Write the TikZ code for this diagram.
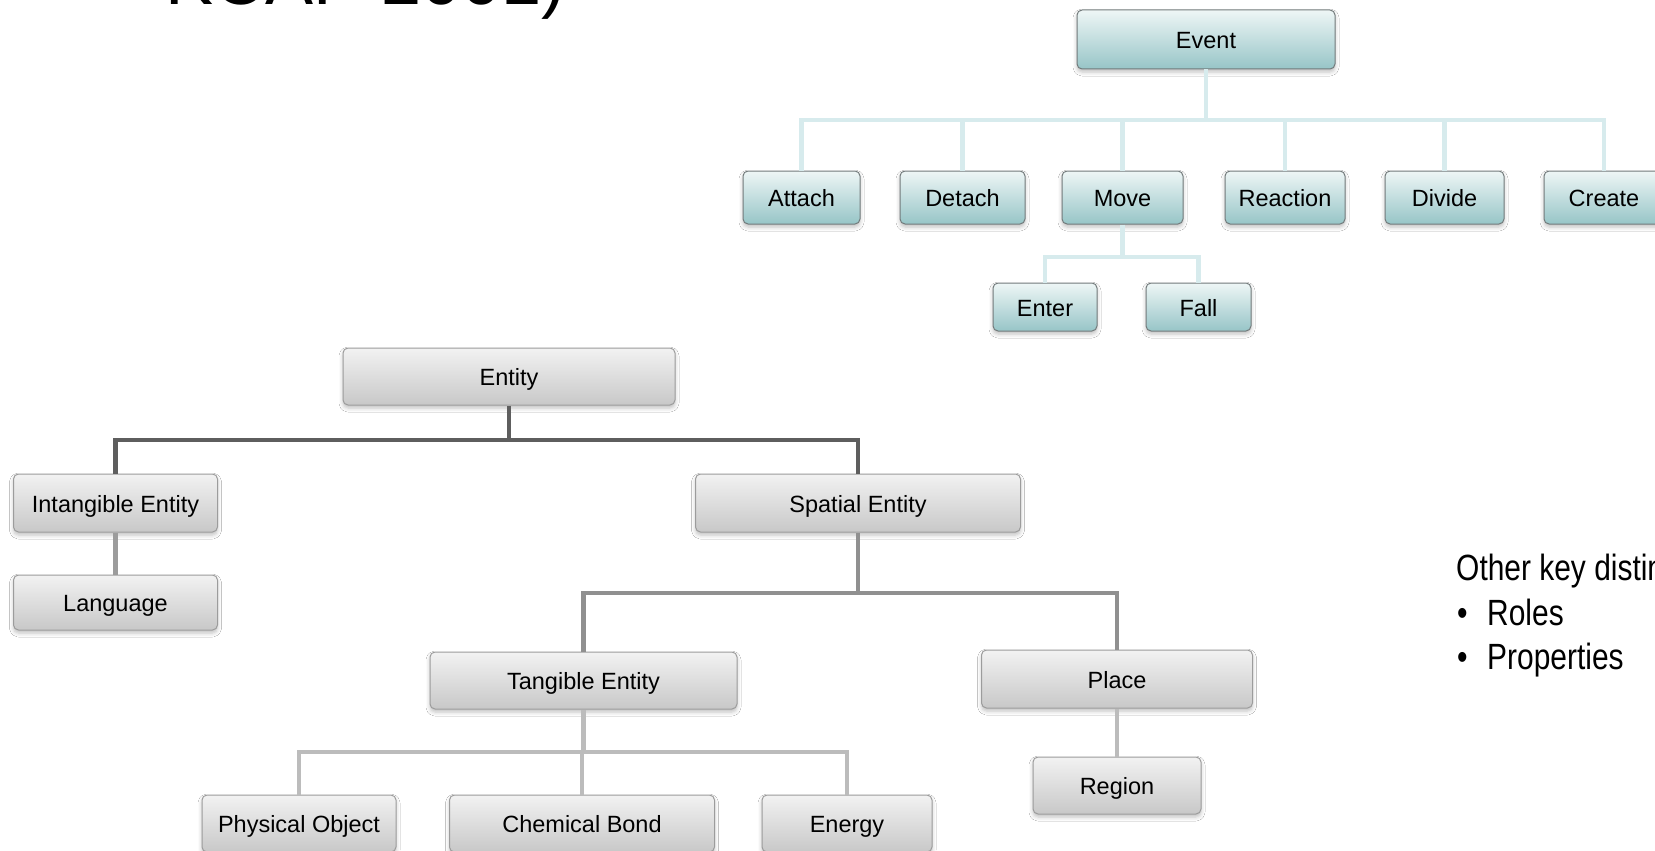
\documentclass[tikz,border=0pt]{standalone}
\usepackage{fontspec}
\setmainfont{Liberation Sans}
\newfontfamily\narrowsans[FakeStretch=0.82]{Liberation Sans}
\usetikzlibrary{shadows.blur}

\definecolor{tealtop}{HTML}{EEF6F6}
\definecolor{tealbot}{HTML}{97C5C7}
\definecolor{tealedge}{HTML}{737B7C}
\definecolor{teallink}{HTML}{D7EBED}
\definecolor{graytop}{HTML}{F2F2F2}
\definecolor{graybot}{HTML}{C8C8C8}
\definecolor{grayedge}{HTML}{9C9C9C}
\definecolor{linkdark}{HTML}{5E5E5E}
\definecolor{linkmid}{HTML}{909090}
\definecolor{linksoft}{HTML}{9C9C9C}
\definecolor{linklight}{HTML}{BCBCBC}

\tikzset{
  box/.style={rounded corners=5pt, line width=1pt, inner sep=0pt,
    font=\fontsize{23.5}{28}\selectfont, text height=21pt, text depth=3pt,
    blur shadow={shadow xshift=0pt, shadow yshift=-3pt,
      shadow blur radius=4pt, shadow opacity=25}},
  tealbox/.style={box, draw=tealedge, top color=tealtop, bottom color=tealbot},
  graybox/.style={box, draw=grayedge, top color=graytop, bottom color=graybot},
  sz/.style 2 args={minimum width=#1pt, minimum height=#2pt},
  link/.style={line width=4.8pt},
  tlink/.style={link, draw=teallink},
}

\begin{document}
\begin{tikzpicture}[x=1pt, y=-1pt]
  \useasboundingbox (0,0) rectangle (1655,851);
  \fill[white] (0,0) rectangle (1655,851);
  \clip (0,0) rectangle (1655,851);

  % heading running off the top edge
  \node[anchor=base west, inner sep=0pt, font=\fontsize{72}{80}\selectfont]
    (title) at (165,5) {KCAP 2001)};

  % event hierarchy
  \node[tealbox, sz={258}{59}] (event)    at (1206,39.5)  {Event};
  \node[tealbox, sz={117}{53}] (attach)   at (801.5,197.5) {Attach};
  \node[tealbox, sz={125}{53}] (detach)   at (962.5,197.5) {Detach};
  \node[tealbox, sz={121}{53}] (move)     at (1122.5,197.5) {Move};
  \node[tealbox, sz={120}{53}] (reaction) at (1285,197.5)  {Reaction};
  \node[tealbox, sz={119}{53}] (divide)   at (1444.5,197.5) {Divide};
  \node[tealbox, sz={120}{53}] (create)   at (1604,197.5)  {Create};
  \node[tealbox, sz={104}{48}] (enter)    at (1045,307)    {Enter};
  \node[tealbox, sz={105}{48}] (fall)     at (1198.5,307)  {Fall};

  \coordinate (evbar) at (0,120);
  \coordinate (mvbar) at (0,257);
  \draw[tlink] (event.south) -- (event.south |- evbar);
  \draw[tlink] (attach.north) |- (create.north |- evbar) -- (create.north);
  \foreach \n in {detach,move,reaction,divide}
    \draw[tlink] (\n.north) -- (\n.north |- evbar);
  \draw[tlink] (move.south) -- (move.south |- mvbar);
  \draw[tlink] (enter.north) |- (fall.north |- mvbar) -- (fall.north);

  % entity hierarchy
  \node[graybox, sz={332}{57}] (entity)     at (509,376.5)  {Entity};
  \node[graybox, sz={204}{58}] (intangible) at (115.5,503)  {Intangible Entity};
  \node[graybox, sz={204}{55}] (language)   at (115.5,602.5) {Language};
  \node[graybox, sz={325}{58}] (spatial)    at (858,503)    {Spatial Entity};
  \node[graybox, sz={307}{57}] (tangible)   at (583.5,680.5) {Tangible Entity};
  \node[graybox, sz={271}{58}] (place)      at (1117,679)   {Place};
  \node[graybox, sz={168}{57}] (region)     at (1117,785.5) {Region};
  \node[graybox, sz={194}{57}] (physobj)    at (299,823.5)  {Physical Object};
  \node[graybox, sz={265}{57}] (chembond)   at (582,823.5)  {Chemical Bond};
  \node[graybox, sz={170}{57}] (energy)     at (847,823.5)  {Energy};

  \coordinate (enbar) at (0,440);
  \coordinate (spbar) at (0,593);
  \coordinate (tgbar) at (0,752);
  \draw[link, draw=linkdark] (entity.south) -- (entity.south |- enbar);
  \draw[link, draw=linkdark] (intangible.north) |- (spatial.north |- enbar) -- (spatial.north);
  \draw[link, draw=linksoft] (intangible.south) -- (language.north);
  \draw[link, draw=linkmid] (spatial.south) -- (spatial.south |- spbar);
  \draw[link, draw=linkmid] (tangible.north) |- (place.north |- spbar) -- (place.north);
  \draw[link, draw=linklight] (place.south) -- (region.north);
  \draw[link, draw=linklight] (tangible.south) -- (tangible.south |- tgbar);
  \draw[link, draw=linklight] (physobj.north) |- (energy.north |- tgbar) -- (energy.north);
  \draw[link, draw=linklight] (chembond.north) -- (chembond.north |- tgbar);

  % side note
  \begin{scope}[every node/.style={anchor=base west, inner sep=0pt,
      font=\narrowsans\fontsize{36.5}{44}\selectfont}]
    \node (note)  at (1456,580) {Other key distinctions};
    \node (bul1)  at (1457,625) {•};
    \node (roles) at (1487,625) {Roles};
    \node (bul2)  at (1457,669) {•};
    \node (props) at (1487,669) {Properties};
  \end{scope}
\end{tikzpicture}
\end{document}
